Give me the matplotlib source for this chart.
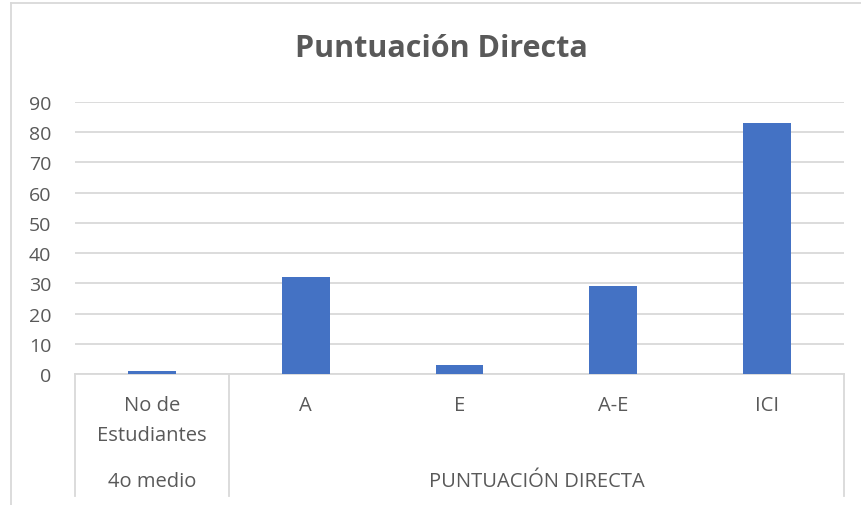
import matplotlib
matplotlib.use('Agg')
import matplotlib.pyplot as plt
from matplotlib.lines import Line2D
from matplotlib.transforms import blended_transform_factory

plt.rcParams['font.family'] = ['Open Sans', 'DejaVu Sans']

# datos del grafico
categorias = ['No de\nEstudiantes', 'A', 'E', 'A-E', 'ICI']
valores = [1, 32, 3, 29, 83]
grupos = ['4o medio', 'PUNTUACIÓN DIRECTA']
grupo_limites = [-0.5, 0.5, 4.5]
yticks = list(range(0, 100, 10))

texto = '#595959'
gris = '#d9d9d9'
azul = '#4472C4'

W, H = 861, 506
fig = plt.figure(figsize=(W / 100, H / 100), dpi=100)

# ejes en pixeles: x 75..844, y 103..375
ax = fig.add_axes([75 / W, (H - 375) / H, (844 - 75) / W, (375 - 103) / H])

ax.bar(range(len(valores)), valores, width=0.31, color=azul, zorder=3)
ax.set_xlim(-0.5, len(valores) - 0.5)
ax.set_ylim(0, 90)
ax.set_yticks(yticks)
ax.yaxis.grid(True, color=gris, linewidth=1.3)
ax.set_axisbelow(True)
for s in ax.spines.values():
    s.set_visible(False)
ax.tick_params(axis='y', length=0, pad=17, labelsize=14, labelcolor=texto)
ax.set_xticks([])

# caja del eje de categorias
tr = blended_transform_factory(ax.transData, ax.transAxes)
abajo = -(497 - 375) / 272
ax.plot([-0.5, 4.5], [0, 0], color=gris, lw=1.3, transform=tr, clip_on=False)
for xl in grupo_limites:
    ax.plot([xl, xl], [0, abajo], color=gris, lw=1.3, transform=tr, clip_on=False)

for i, c in enumerate(categorias):
    ax.text(i, -(396 - 375) / 272, c, transform=tr, ha='center', va='top',
            fontsize=14.5, color=texto, linespacing=1.7)

ax.text(0, -(482 - 375) / 272, grupos[0], transform=tr, ha='center', va='center',
        fontsize=14.5, color=texto)
ax.text(2.5, -(482 - 375) / 272, grupos[1], transform=tr, ha='center', va='center',
        fontsize=14.5, color=texto)

fig.text(441 / W, 1 - 49 / H, 'Puntuación Directa', ha='center', va='center',
         fontsize=22, fontweight='bold', color=texto)

# borde del area del grafico
fig.add_artist(Line2D([11 / W, 11 / W], [0, 1 - 4 / H], color=gris, lw=1.3))
fig.add_artist(Line2D([11 / W, 1], [1 - 4 / H, 1 - 4 / H], color=gris, lw=1.3))

fig.savefig('out.png', dpi=100, facecolor='white')
